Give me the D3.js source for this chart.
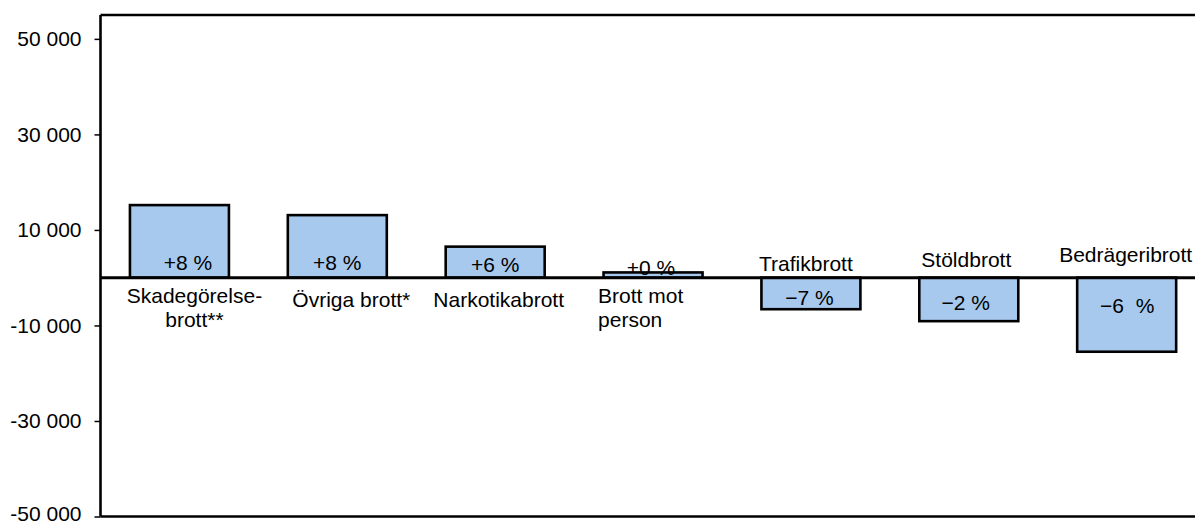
<!DOCTYPE html>
<html>
<head>
<meta charset="utf-8">
<script src="https://cdn.jsdelivr.net/npm/d3@7"></script>
<style>
  body { margin: 0; background: #fff; }
  svg { display: block; }
  text { font-family: "Liberation Sans", Arial, Helvetica, sans-serif; fill: #000; }
</style>
</head>
<body>
<svg width="1195" height="525"></svg>
<script>
  // data
  const categories = [
    ["Skadegörelse-", "brott**"],
    ["Övriga brott*"],
    ["Narkotikabrott"],
    ["Brott mot", "person"],
    ["Trafikbrott"],
    ["Stöldbrott"],
    ["Bedrägeribrott"]
  ];
  const changes = [15200, 13100, 6500, 1100, -6600, -9100, -15500];
  const pctLabels = ["+8 %", "+8 %", "+6 %", "+0 %", "\u22127 %", "\u22122 %", "\u22126  %"];
  const yTicks = [50000, 30000, 10000, -10000, -30000, -50000];

  const svg = d3.select("svg");
  const plotLeft = 100.5, plotTop = 15, plotBottom = 516.5, plotRight = 1205.6;

  const y = d3.scaleLinear()
    .domain([-50000, 55000])
    .range([plotBottom, plotTop]);

  const x = d3.scaleBand()
    .domain(d3.range(categories.length))
    .range([plotLeft, plotRight])
    .paddingInner(0.373)
    .paddingOuter(0.1865);

  const fmt = d3.formatLocale({
    decimal: ",", thousands: " ", grouping: [3], currency: ["", ""], minus: "-"
  }).format(",");

  // y axis
  const yAxis = d3.axisLeft(y)
    .tickValues(yTicks)
    .tickSize(6)
    .tickPadding(13)
    .tickFormat(fmt);

  const gy = svg.append("g")
    .attr("transform", `translate(${plotLeft},0)`)
    .call(yAxis);
  gy.select(".domain").remove();
  gy.selectAll(".tick line").attr("stroke", "#000").attr("stroke-width", 1.5);
  gy.selectAll(".tick text")
    .attr("font-size", 21)
    .attr("font-family", "'Liberation Sans', Arial, sans-serif")
    .attr("fill", "#000");
  // keep the lowest label inside the picture
  gy.selectAll(".tick text").filter(d => d === -50000).attr("dy", "0.2em");

  // bars
  svg.append("g")
    .selectAll("rect")
    .data(changes)
    .join("rect")
    .attr("x", (d, i) => x(i))
    .attr("y", d => Math.min(y(d), y(0)))
    .attr("width", x.bandwidth())
    .attr("height", d => Math.abs(y(d) - y(0)))
    .attr("fill", "#a7c9ee")
    .attr("stroke", "#000")
    .attr("stroke-width", 2.6);

  // frame
  const frame = svg.append("g").attr("stroke", "#000").attr("fill", "none");
  frame.append("line").attr("x1", plotLeft).attr("x2", plotRight).attr("y1", plotTop).attr("y2", plotTop).attr("stroke-width", 2.6);
  frame.append("line").attr("x1", plotLeft).attr("x2", plotRight).attr("y1", plotBottom).attr("y2", plotBottom).attr("stroke-width", 2.6);
  frame.append("line").attr("x1", plotLeft).attr("x2", plotLeft).attr("y1", plotTop).attr("y2", plotBottom).attr("stroke-width", 2.6);
  // zero line
  frame.append("line").attr("x1", plotLeft).attr("x2", plotRight).attr("y1", y(0)).attr("y2", y(0)).attr("stroke-width", 3);

  // category labels: below zero for gains, above for losses
  const catDx = [15, 14, 3.5, -55, -5, -2.5, -1];
  const catY = [303.3, 307.3, 307.3, 303.3, 270.7, 266.7, 261.7];
  const cx = i => x(i) + x.bandwidth() / 2;

  svg.append("g")
    .selectAll("text")
    .data(categories)
    .join("text")
    .attr("font-size", 21)
    .attr("text-anchor", (d, i) => i === 3 ? "start" : "middle")
    .attr("x", (d, i) => cx(i) + catDx[i])
    .attr("y", (d, i) => catY[i])
    .selectAll("tspan")
    .data(d => d)
    .join("tspan")
    .attr("x", function () { return this.parentNode.getAttribute("x"); })
    .attr("dy", (d, j) => j === 0 ? 0 : 23.5)
    .text(d => d);

  // percentage labels inside the bars
  const pctDx = [8.5, 0, 0, -2, -1.5, -3, 0.5];
  const pctY = [270, 270, 272.3, 275, 305, 310, 313.3];

  svg.append("g")
    .selectAll("text")
    .data(pctLabels)
    .join("text")
    .attr("font-size", 21)
    .attr("text-anchor", "middle")
    .attr("xml:space", "preserve")
    .style("white-space", "pre")
    .attr("x", (d, i) => cx(i) + pctDx[i])
    .attr("y", (d, i) => pctY[i])
    .text(d => d);
</script>
</body>
</html>
